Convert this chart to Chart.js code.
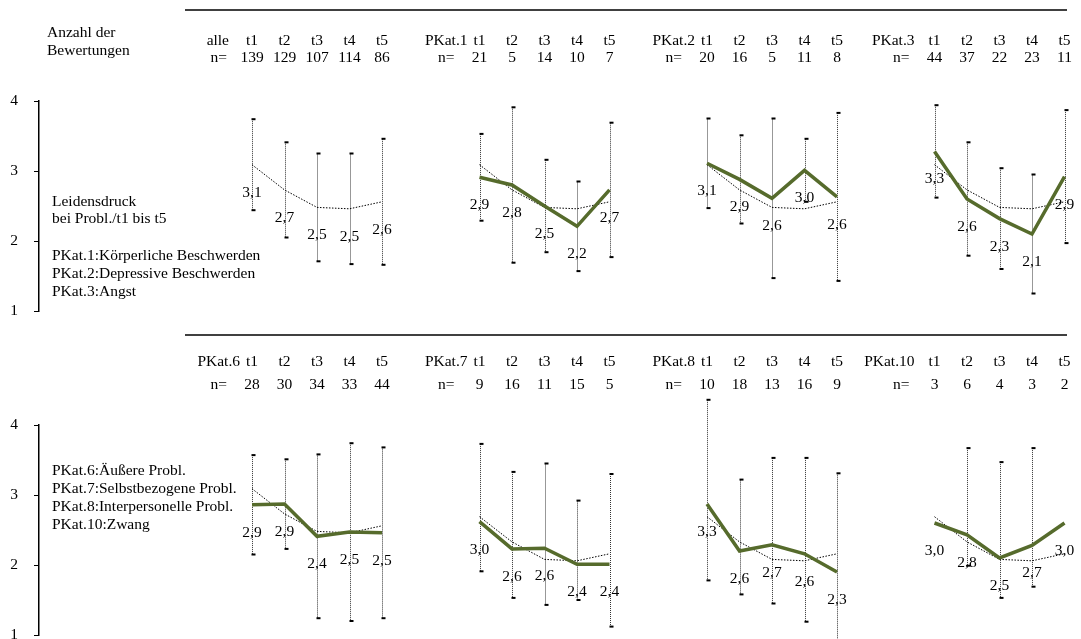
<!DOCTYPE html>
<html lang="de">
<head>
<meta charset="UTF-8" />
<title>Leidensdruck bei Problemen t1 bis t5</title>
<script src="https://cdn.jsdelivr.net/npm/chart.js"></script>
<style>
    html, body { margin: 0; padding: 0; background: #fff; overflow: hidden; }
    #wrap { position: relative; width: 1081px; height: 639px; overflow: hidden; }
    canvas { position: absolute; left: 0; }
    #topChart { top: 0; }
    #bottomChart { top: 320px; }
</style>
</head>
<body>
<div id="wrap">
    <canvas id="topChart" width="1081" height="320"></canvas>
    <canvas id="bottomChart" width="1081" height="330"></canvas>
</div>
<script>
// Zeitpunkte und Gruppenanfang (Slot auf der x-Achse)
const times = ['t1', 't2', 't3', 't4', 't5'];
const groupStart = [0, 7, 14, 21];
const yTicks = [1, 2, 3, 4];

// alle Bewertungen (gepunktete Referenzlinie)
const alleMean = [3.09, 2.73, 2.48, 2.46, 2.56];
const alleSd = [0.65, 0.68, 0.77, 0.79, 0.90];
const alleN = [139, 129, 107, 114, 86];

const pkat1Mean = [2.91, 2.80, 2.50, 2.21, 2.73];
const pkat1Sd = [0.62, 1.11, 0.66, 0.64, 0.96];
const pkat1N = [21, 5, 14, 10, 7];

const pkat2Mean = [3.11, 2.88, 2.61, 3.01, 2.63];
const pkat2Sd = [0.64, 0.63, 1.14, 0.45, 1.20];
const pkat2N = [20, 16, 5, 11, 8];

const pkat3Mean = [3.28, 2.60, 2.32, 2.10, 2.92];
const pkat3Sd = [0.66, 0.81, 0.72, 0.85, 0.95];
const pkat3N = [44, 37, 22, 23, 11];

const pkat6Mean = [2.86, 2.87, 2.41, 2.47, 2.46];
const pkat6Sd = [0.71, 0.64, 1.17, 1.27, 1.22];
const pkat6N = [28, 30, 34, 33, 44];

const pkat7Mean = [3.02, 2.63, 2.64, 2.41, 2.41];
const pkat7Sd = [0.91, 0.90, 1.01, 0.71, 1.09];
const pkat7N = [9, 16, 11, 15, 5];

const pkat8Mean = [3.27, 2.60, 2.69, 2.56, 2.30];
const pkat8Sd = [1.29, 0.82, 1.04, 1.17, 1.21];
const pkat8N = [10, 18, 13, 16, 9];

const pkat10Mean = [3.00, 2.83, 2.50, 2.68, 3.00];
const pkat10Sd = [0, 0.84, 0.97, 0.99, 0];
const pkat10N = [3, 6, 4, 3, 2];

const FONT = '15.5px "Liberation Serif", "Times New Roman", serif';
const GREEN = '#566b2c';

// axis/barAxis: in der unteren Reihe sind Linien und Balken im Original versetzt
const topGroups = [
    { name: 'alle', mean: alleMean, sd: alleSd, n: alleN, ref: true, axis: 'y', barAxis: 'y' },
    { name: 'PKat.1', mean: pkat1Mean, sd: pkat1Sd, n: pkat1N, axis: 'y', barAxis: 'y' },
    { name: 'PKat.2', mean: pkat2Mean, sd: pkat2Sd, n: pkat2N, axis: 'y', barAxis: 'y' },
    { name: 'PKat.3', mean: pkat3Mean, sd: pkat3Sd, n: pkat3N, axis: 'y', barAxis: 'y' }
];
const bottomGroups = [
    { name: 'PKat.6', mean: pkat6Mean, sd: pkat6Sd, n: pkat6N, axis: 'y', barAxis: 'y' },
    { name: 'PKat.7', mean: pkat7Mean, sd: pkat7Sd, n: pkat7N, axis: 'y2', barAxis: 'y3' },
    { name: 'PKat.8', mean: pkat8Mean, sd: pkat8Sd, n: pkat8N, axis: 'y2', barAxis: 'y3' },
    { name: 'PKat.10', mean: pkat10Mean, sd: pkat10Sd, n: pkat10N, axis: 'y2', barAxis: 'y' }
];

const fmt = v => v.toFixed(1).replace('.', ',');

// Fehlerbalken, Werte, Kopfzeilen und Texte
const overlay = {
    id: 'overlay',
    beforeDatasetsDraw(chart, args, o) {
        const { ctx, scales } = chart;
        const x = scales.x;
        ctx.save();
        o.groups.forEach((g, gi) => {
            const y = scales[g.barAxis];
            g.mean.forEach((m, i) => {
                if (!g.sd[i]) return;
                const px = Math.round(x.getPixelForValue(groupStart[gi] + i)) + 0.5;
                const yt = y.getPixelForValue(m + g.sd[i]);
                const yb = y.getPixelForValue(m - g.sd[i]);
                ctx.strokeStyle = '#333';
                ctx.lineWidth = 1;
                ctx.setLineDash([1, 1]);
                ctx.beginPath(); ctx.moveTo(px, yt); ctx.lineTo(px, yb); ctx.stroke();
                ctx.setLineDash([]);
                ctx.fillStyle = '#000';
                ctx.fillRect(px - 1, yt - 1, 4, 2);
                ctx.fillRect(px - 1, yb - 1, 4, 2);
            });
        });
        ctx.restore();
    },
    afterDatasetsDraw(chart, args, o) {
        const { ctx, scales } = chart;
        const x = scales.x;
        ctx.save();
        ctx.font = FONT;
        ctx.fillStyle = '#000';
        ctx.textBaseline = 'middle';

        // Werte unter den Mittelwerten
        ctx.textAlign = 'center';
        o.groups.forEach((g, gi) => {
            const y = scales[g.axis];
            g.mean.forEach((m, i) => {
                ctx.fillText(fmt(m), x.getPixelForValue(groupStart[gi] + i), y.getPixelForValue(m) + 28);
            });
        });

        // Trennlinie oben
        ctx.strokeStyle = '#000';
        ctx.lineWidth = 1.5;
        ctx.beginPath();
        ctx.moveTo(185, o.lineY); ctx.lineTo(1067, o.lineY);
        ctx.stroke();

        // Kopfzeilen
        o.groups.forEach((g, gi) => {
            const x1 = x.getPixelForValue(groupStart[gi]);
            ctx.textAlign = 'right';
            ctx.fillText(g.name, x1 - o.nameGap[gi], o.titleY);
            ctx.fillText('n=', x1 - 25, o.nY);
            ctx.textAlign = 'center';
            times.forEach((t, i) => {
                const xi = x.getPixelForValue(groupStart[gi] + i);
                ctx.fillText(t, xi, o.titleY);
                ctx.fillText(String(g.n[i]), xi, o.nY);
            });
        });

        ctx.textAlign = 'left';
        o.notes.forEach(([t, tx, ty]) => ctx.fillText(t, tx, ty));
        ctx.restore();
    }
};

function makeRow(id, groups, padTop, padBottom, o) {
    const datasets = [];
    groups.forEach((g, gi) => {
        const s = groupStart[gi];
        datasets.push({
            data: alleMean.map((v, i) => ({ x: s + i, y: v })),
            yAxisID: g.axis,
            borderColor: '#000', borderWidth: 1, borderDash: [1.5, 1.5],
            pointRadius: 0, order: 2
        });
        if (!g.ref) {
            datasets.push({
                data: g.mean.map((v, i) => ({ x: s + i, y: v })),
                yAxisID: g.axis,
                borderColor: GREEN, borderWidth: 3.5,
                pointRadius: 0, order: 1
            });
        }
    });

    o.groups = groups;
    return new Chart(document.getElementById(id), {
        type: 'line',
        data: { datasets },
        options: {
            responsive: false,
            animation: false,
            devicePixelRatio: 1,
            layout: { padding: { top: padTop, bottom: padBottom, left: 0, right: 6 } },
            scales: {
                x: { type: 'linear', display: false, min: -6.554, max: 25.323 },
                y: {
                    min: 1, max: 4,
                    afterBuildTicks: s => { s.ticks = yTicks.map(v => ({ value: v })); },
                    afterFit: s => { s.width = 39; s.paddingTop = 0; s.paddingBottom = 0; },
                    ticks: { color: '#000', font: { family: '"Liberation Serif", serif', size: 15.5 }, padding: 16 },
                    grid: { drawOnChartArea: false, drawTicks: true, tickLength: 5, color: '#000', lineWidth: 1 },
                    border: { display: true, color: '#000', width: 1.5 }
                },
                // gleiche Skala, nach unten verschoben
                y2: { display: false, min: 1.4, max: 4.4 },
                y3: { display: false, min: 1.2, max: 4.2 }
            },
            plugins: { legend: { display: false }, tooltip: { enabled: false }, overlay: o }
        },
        plugins: [overlay]
    });
}

makeRow('topChart', topGroups, 101, 9, {
    nameGap: [23, 12, 12, 20], lineY: 10, titleY: 41, nY: 58,
    notes: [
        ['Anzahl der', 47, 33], ['Bewertungen', 47, 51],
        ['Leidensdruck', 52, 202], ['bei Probl./t1 bis t5', 52, 219],
        ['PKat.1:Körperliche Beschwerden', 52, 256],
        ['PKat.2:Depressive Beschwerden', 52, 274],
        ['PKat.3:Angst', 52, 292]
    ]
});

makeRow('bottomChart', bottomGroups, 105, 15, {
    nameGap: [12, 12, 12, 20], lineY: 15, titleY: 42, nY: 65,
    notes: [
        ['PKat.6:Äußere Probl.', 52, 151],
        ['PKat.7:Selbstbezogene Probl.', 52, 169],
        ['PKat.8:Interpersonelle Probl.', 52, 187],
        ['PKat.10:Zwang', 52, 205]
    ]
});
</script>
</body>
</html>
